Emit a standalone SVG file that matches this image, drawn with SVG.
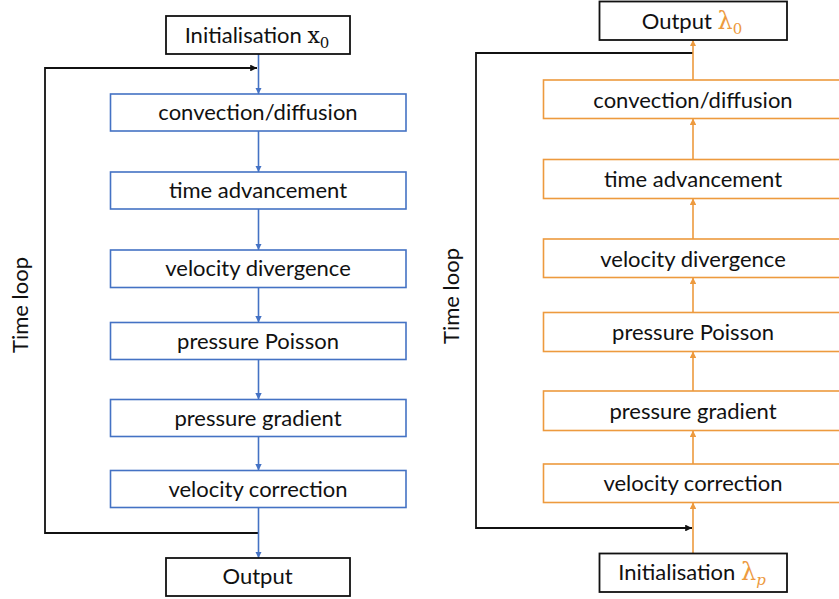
<svg xmlns="http://www.w3.org/2000/svg" width="839" height="599" viewBox="0 0 839 599">
<style>
text{font-family:Lato,"Open Sans","Liberation Sans",sans-serif;font-size:22px;fill:#111;text-anchor:middle}
.m{font-family:"DejaVu Serif","Liberation Serif",serif}
.or{fill:#ED9A3E}
.bb{fill:#fff;stroke:#4472C4;stroke-width:1.6}
.ob{fill:#fff;stroke:#ED9A3E;stroke-width:1.6}
.kb{fill:#fff;stroke:#111;stroke-width:1.8}
.bl{stroke:#4472C4;stroke-width:1.6;fill:none;marker-end:url(#ab)}
.ol{stroke:#ED9A3E;stroke-width:1.6;fill:none;marker-end:url(#ao)}
.kl{stroke:#111;stroke-width:1.8;fill:none;marker-end:url(#ak)}
</style>
<defs>
<marker id="ab" viewBox="0 0 10 10" refX="10" refY="5" markerWidth="4" markerHeight="4" orient="auto" markerUnits="strokeWidth"><path d="M0,0 L10,5 L0,10 z" fill="#4472C4"/></marker>
<marker id="ao" viewBox="0 0 10 10" refX="10" refY="5" markerWidth="4" markerHeight="4" orient="auto" markerUnits="strokeWidth"><path d="M0,0 L10,5 L0,10 z" fill="#ED9A3E"/></marker>
<marker id="ak" viewBox="0 0 10 10" refX="10" refY="5" markerWidth="3.8" markerHeight="3.8" orient="auto" markerUnits="strokeWidth"><path d="M0,0 L10,5 L0,10 z" fill="#111"/></marker>
</defs>
<rect width="839" height="599" fill="#fff"/>
<g id="connectors">
<path class="kl" d="M258.5,533 H45 V68 H257"/>
<line class="bl" x1="258.5" y1="54" x2="258.5" y2="94"/>
<line class="bl" x1="258.5" y1="131" x2="258.5" y2="172"/>
<line class="bl" x1="258.5" y1="209" x2="258.5" y2="250"/>
<line class="bl" x1="258.5" y1="287.5" x2="258.5" y2="322.5"/>
<line class="bl" x1="258.5" y1="359.5" x2="258.5" y2="399.5"/>
<line class="bl" x1="258.5" y1="436.5" x2="258.5" y2="470.5"/>
<line class="bl" x1="258.5" y1="507.5" x2="258.5" y2="558"/>
<path class="kl" d="M693,53 H476 V528 H692"/>
<line class="ol" x1="693" y1="553" x2="693" y2="502.5"/>
<line class="ol" x1="693" y1="464" x2="693" y2="430.5"/>
<line class="ol" x1="693" y1="391" x2="693" y2="351.5"/>
<line class="ol" x1="693" y1="312.5" x2="693" y2="277.5"/>
<line class="ol" x1="693" y1="239" x2="693" y2="198.5"/>
<line class="ol" x1="693" y1="159.5" x2="693" y2="118.5"/>
<line class="ol" x1="693" y1="80" x2="693" y2="40"/>
</g>
<g id="label-time-loop-left"><text transform="translate(28,305) rotate(-90)">Time loop</text></g>
<g id="label-time-loop-right"><text transform="translate(459,296) rotate(-90)">Time loop</text></g>
<g id="l-init"><rect class="kb" x="166" y="16" width="184" height="38"/><text x="257" y="43">Initialisation <tspan class="m">x</tspan><tspan class="m" font-size="15" dy="5">0</tspan></text></g>
<g id="l-conv"><rect class="bb" x="110.5" y="94" width="295.5" height="37"/><text x="258" y="120">convection/diffusion</text></g>
<g id="l-time"><rect class="bb" x="110.5" y="172" width="295.5" height="37"/><text x="258" y="198">time advancement</text></g>
<g id="l-vdiv"><rect class="bb" x="110.5" y="250" width="295.5" height="37.5"/><text x="258" y="276">velocity divergence</text></g>
<g id="l-pp"><rect class="bb" x="110.5" y="322.5" width="295.5" height="37"/><text x="258" y="348.5">pressure Poisson</text></g>
<g id="l-pg"><rect class="bb" x="110.5" y="399.5" width="295.5" height="37"/><text x="258" y="425.5">pressure gradient</text></g>
<g id="l-vc"><rect class="bb" x="110.5" y="470.5" width="295.5" height="37"/><text x="258" y="496.5">velocity correction</text></g>
<g id="l-out"><rect class="kb" x="166" y="558" width="184" height="38"/><text x="257.5" y="584">Output</text></g>
<g id="r-out"><rect class="kb" x="599.5" y="1.5" width="187.5" height="38.5"/><text x="692" y="28.5">Output <tspan class="m or" font-size="24">λ</tspan><tspan class="m or" font-size="15" dy="5">0</tspan></text></g>
<g id="r-conv"><rect class="ob" x="543.5" y="80" width="300" height="38.5"/><text x="693" y="107.5">convection/diffusion</text></g>
<g id="r-time"><rect class="ob" x="543.5" y="159.5" width="300" height="39"/><text x="693" y="186.5">time advancement</text></g>
<g id="r-vdiv"><rect class="ob" x="543.5" y="239" width="300" height="38.5"/><text x="693" y="266.5">velocity divergence</text></g>
<g id="r-pp"><rect class="ob" x="543.5" y="312.5" width="300" height="39"/><text x="693" y="340">pressure Poisson</text></g>
<g id="r-pg"><rect class="ob" x="543.5" y="391" width="300" height="39.5"/><text x="693" y="419">pressure gradient</text></g>
<g id="r-vc"><rect class="ob" x="543.5" y="464" width="300" height="38.5"/><text x="693" y="491">velocity correction</text></g>
<g id="r-init"><rect class="kb" x="599.5" y="553.5" width="187.5" height="38.5"/><text x="692" y="580">Initialisation <tspan class="m or" font-size="24">λ</tspan><tspan class="m or" font-size="15" font-style="italic" dy="5">p</tspan></text></g>
</svg>
